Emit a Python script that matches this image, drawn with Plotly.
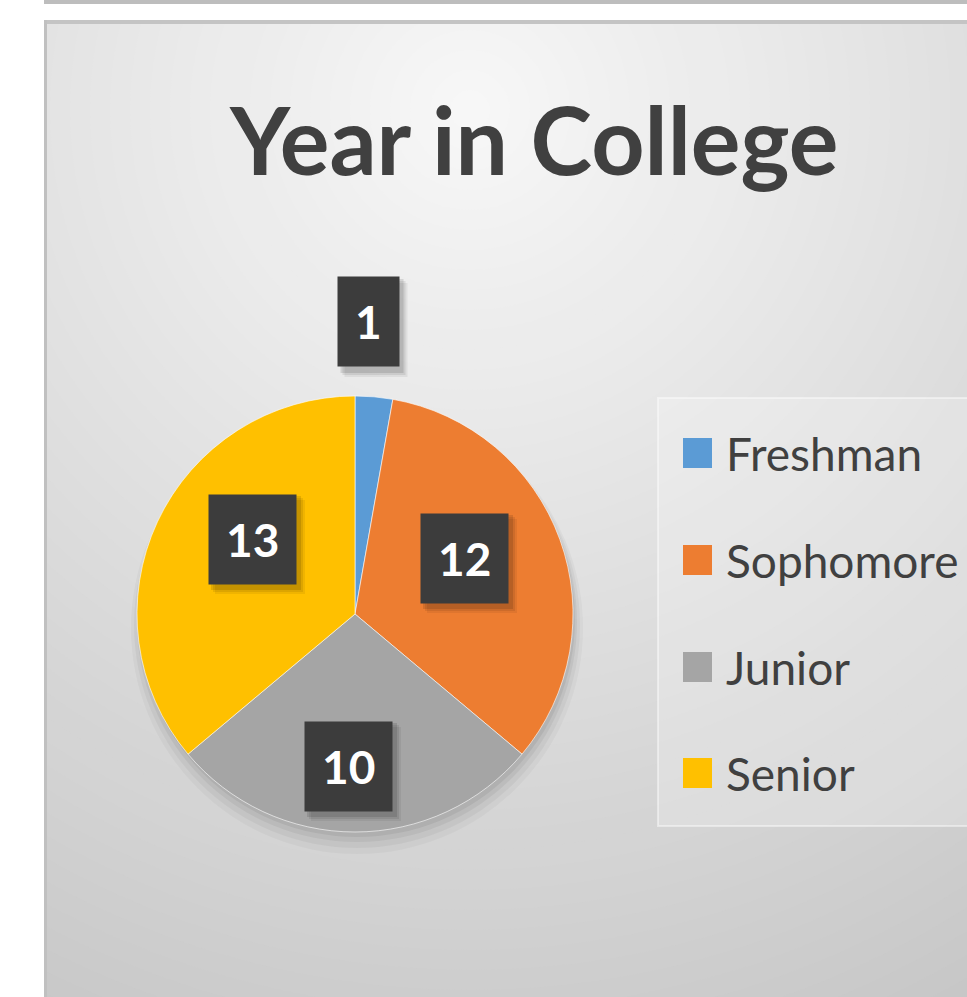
import math
import plotly.graph_objects as go

# ---- data ----
labels = ["Freshman", "Sophomore", "Junior", "Senior"]
values = [1, 12, 10, 13]
colors = ["#5B9BD5", "#ED7D31", "#A5A5A5", "#FFC000"]
title_text = "Year in College"

W, H = 967, 997


def px(x):
    return x / W


def py(y):
    return 1 - y / H


shapes = []

# radial gradient background (concentric circles, stepped)
cx, cy = 470, 110
R = 1120
step = 20
while R > 0:
    L = int(round(248 - 0.048 * R))
    L = max(min(L, 250), 190)
    shapes.append(dict(type="circle", xref="paper", yref="paper",
                       x0=px(cx - R), x1=px(cx + R), y0=py(cy + R), y1=py(cy - R),
                       fillcolor=f"rgb({L},{L},{L})", line=dict(width=0), layer="below"))
    R -= step

# white margins and top bar (masks)
shapes += [
    dict(type="rect", xref="paper", yref="paper", x0=0, x1=px(44), y0=0, y1=1,
         fillcolor="white", line=dict(width=0), layer="below"),
    dict(type="rect", xref="paper", yref="paper", x0=0, x1=1, y0=py(20), y1=1,
         fillcolor="white", line=dict(width=0), layer="below"),
    dict(type="rect", xref="paper", yref="paper", x0=px(44), x1=1, y0=py(4), y1=1,
         fillcolor="#bdbdbd", line=dict(width=0), layer="below"),
    dict(type="rect", xref="paper", yref="paper", x0=px(44), x1=1, y0=py(24), y1=py(20),
         fillcolor="#c4c4c4", line=dict(width=0), layer="below"),
    dict(type="rect", xref="paper", yref="paper", x0=px(44), x1=px(47), y0=0, y1=py(20),
         fillcolor="#c0c0c0", line=dict(width=0), layer="below"),
]

# pie geometry
pcx, pcy, pr = 355, 614, 218

# soft pie shadow (mostly below the pie)
for dr, dy, a in [(8, 14, 0.03), (5, 11, 0.04), (2, 8, 0.05), (0, 5, 0.06)]:
    shapes.append(dict(type="circle", xref="paper", yref="paper",
                       x0=px(pcx - pr - dr + 2), x1=px(pcx + pr + dr + 2),
                       y0=py(pcy + pr + dr + dy), y1=py(pcy - pr - dr + dy),
                       fillcolor=f"rgba(0,0,0,{a})", line=dict(width=0), layer="below"))

# legend box
shapes.append(dict(type="rect", xref="paper", yref="paper",
                   x0=px(658), x1=px(975), y0=py(826), y1=py(398),
                   fillcolor="rgba(255,255,255,0.22)",
                   line=dict(color="rgba(255,255,255,0.45)", width=2), layer="below"))

fig = go.Figure()
fig.add_trace(go.Pie(
    labels=labels, values=values, sort=False, direction="clockwise", rotation=0,
    marker=dict(colors=colors, line=dict(color="rgba(255,255,255,0.6)", width=1)),
    textinfo="none", hoverinfo="label+value", showlegend=False,
    domain=dict(x=[px(pcx - pr), px(pcx + pr)], y=[py(pcy + pr), py(pcy - pr)]),
))

annotations = []
# title
annotations.append(dict(text=f"<b>{title_text}</b>", x=px(533), y=py(139), xref="paper", yref="paper",
                        showarrow=False, xanchor="center", yanchor="middle",
                        font=dict(family="Lato", size=93, color="#404040")))

# data label boxes (soft shadow drawn as shapes above the pie)
label_pos = [(368, 322), (464, 558), (348, 766), (252, 539)]
for v, (lx, ly) in zip(values, label_pos):
    bw = 27 * len(str(v)) + 36
    bh = 94
    for off, a in [(8, 0.06), (6, 0.08), (4, 0.11)]:
        shapes.append(dict(type="rect", xref="paper", yref="paper", layer="above",
                           x0=px(lx - bw / 2 + off), x1=px(lx + bw / 2 + off),
                           y0=py(ly + bh / 2 + off), y1=py(ly - bh / 2 + off),
                           fillcolor=f"rgba(0,0,0,{a})", line=dict(width=0)))
    annotations.append(dict(text=f"<b>{v}</b>", x=px(lx), y=py(ly), xref="paper", yref="paper",
                            showarrow=False, xanchor="center", yanchor="middle",
                            bgcolor="#3c3c3c", borderpad=17,
                            font=dict(family="Lato", size=46, color="white")))

# manual legend
leg_y = [453, 560, 667, 773]
for lab, col, yy in zip(labels, colors, leg_y):
    shapes.append(dict(type="rect", xref="paper", yref="paper",
                       x0=px(683), x1=px(712), y0=py(yy + 15), y1=py(yy - 15),
                       fillcolor=col, line=dict(width=0)))
    annotations.append(dict(text=lab, x=px(724), y=py(yy), xref="paper", yref="paper",
                            showarrow=False, xanchor="left", yanchor="middle",
                            font=dict(family="Lato", size=46, color="#404040")))

fig.update_layout(
    width=W, height=H, margin=dict(l=0, r=0, t=0, b=0),
    paper_bgcolor="white", plot_bgcolor="white",
    shapes=shapes, annotations=annotations,
)

fig.write_html("out.html", config={"displayModeBar": False},
               post_script="document.body.style.margin='0';document.body.style.overflow='hidden';")
